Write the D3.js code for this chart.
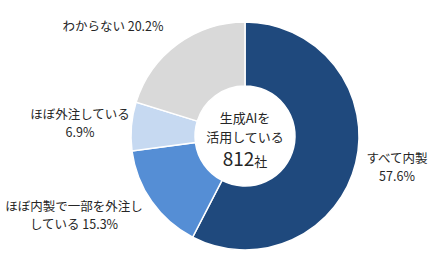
<!DOCTYPE html>
<html>
<head>
<meta charset="utf-8">
<script src="https://cdn.jsdelivr.net/npm/d3@7"></script>
<style>
  body { margin: 0; background: #fff; }
  text { font-family: "Noto Sans CJK JP", sans-serif; fill: #262626; }
</style>
</head>
<body>
<div id="chart"></div>
<script>
// data
const CATEGORIES = ["すべて内製", "ほぼ内製で一部を外注している", "ほぼ外注している", "わからない"]
const VALUES = [57.6, 15.3, 6.9, 20.2]
const COLORS = ["#1F497D", "#558ED5", "#C6D9F1", "#D9D9D9"]
// label lines per slice, and where they sit
const LABEL_LINES = [
  ["すべて内製", "57.6%"],
  ["ほぼ内製で一部を外注し", "している 15.3%"],
  ["ほぼ外注している", "6.9%"],
  ["わからない 20.2%"]
]
const LABEL_POS = [[397, 163], [74, 211], [80, 119], [113, 31]]
const CENTER_TEXT = ["生成AIを", "活用している"]
const TOTAL = "812"

const WIDTH = 443
const HEIGHT = 278
const CX = 245, CY = 136
const R_OUT = 114, R_IN = 50

const SVG = d3.select("#chart")
  .append("svg")
    .attr("width", WIDTH)
    .attr("height", HEIGHT);

const pie = d3.pie().sort(null).value((d) => d)
const arc = d3.arc().innerRadius(R_IN).outerRadius(R_OUT)

const g = SVG.append("g").attr("transform", `translate(${CX},${CY})`)

g.selectAll("path")
  .data(pie(VALUES))
  .enter()
  .append("path")
    .attr("d", arc)
    .attr("fill", (d, i) => COLORS[i])
    .attr("stroke", "#fff")
    .attr("stroke-width", 1.5);

// slice labels
LABEL_LINES.forEach((lines, i) => {
  const t = SVG.append("text")
    .attr("x", LABEL_POS[i][0])
    .attr("y", LABEL_POS[i][1])
    .attr("text-anchor", "middle")
    .attr("font-size", 12.5)
  lines.forEach((l, j) => {
    t.append("tspan")
      .attr("x", LABEL_POS[i][0])
      .attr("dy", j === 0 ? 0 : 18)
      .text(l)
  })
})

// center text
CENTER_TEXT.forEach((l, j) => {
  SVG.append("text")
    .attr("x", CX)
    .attr("y", 123 + j * 19)
    .attr("text-anchor", "middle")
    .attr("font-size", 13)
    .text(l)
})
const tot = SVG.append("text")
  .attr("x", CX)
  .attr("y", 166)
  .attr("text-anchor", "middle")
tot.append("tspan").attr("font-size", 19).text(TOTAL)
tot.append("tspan").attr("font-size", 13).text("社")
</script>
</body>
</html>
